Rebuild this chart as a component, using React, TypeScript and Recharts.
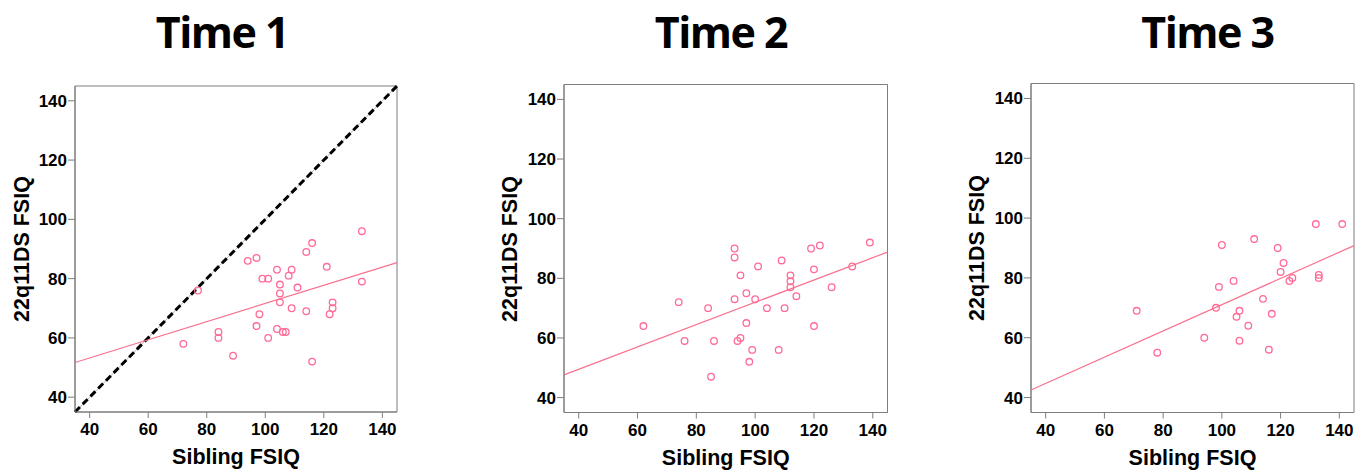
import React from 'react';
import { ScatterChart, Scatter, XAxis, YAxis, ReferenceLine, ReferenceArea } from 'recharts';

// ---------- data ----------
const panelTitles = ['Time 1', 'Time 2', 'Time 3'];
const axisTicks = [40, 60, 80, 100, 120, 140];
const axisDomain: [number, number] = [35, 145];
const xAxisLabel = 'Sibling FSIQ';
const yAxisLabel = '22q11DS FSIQ';

const time1Sibling = [77, 72, 84, 84, 89, 94, 97, 99, 101, 98, 97, 101, 104, 105, 105, 105, 104, 106, 107, 108, 109, 109, 111, 114, 114, 116, 116, 121, 122, 123, 123, 133, 133];
const time1Proband = [76, 58, 62, 60, 54, 86, 87, 80, 80, 68, 64, 60, 83, 78, 75, 72, 63, 62, 62, 81, 83, 70, 77, 89, 69, 92, 52, 84, 68, 72, 70, 96, 79];

const time2Sibling = [62, 74, 76, 84, 86, 85, 93, 93, 93, 95, 97, 97, 95, 94, 99, 98, 100, 101, 104, 108, 109, 110, 112, 112, 112, 114, 119, 120, 120, 122, 126, 133, 139];
const time2Proband = [64, 72, 59, 70, 59, 47, 90, 87, 73, 81, 75, 65, 60, 59, 56, 52, 73, 84, 70, 56, 86, 70, 81, 79, 77, 74, 90, 83, 64, 91, 77, 84, 92];

const time3Sibling = [71, 78, 94, 98, 99, 100, 104, 105, 106, 106, 109, 111, 114, 116, 117, 119, 120, 121, 123, 124, 133, 133, 132, 141];
const time3Proband = [69, 55, 60, 70, 77, 91, 79, 67, 69, 59, 64, 93, 73, 56, 68, 90, 82, 85, 79, 80, 81, 80, 98, 98];

const time1Fit = [{ x: 35, y: 51.7 }, { x: 145, y: 85.4 }];
const time2Fit = [{ x: 35, y: 47.6 }, { x: 145, y: 88.8 }];
const time3Fit = [{ x: 35, y: 42.5 }, { x: 145, y: 90.8 }];
const identityLine = [{ x: 35, y: 35 }, { x: 145, y: 145 }];

const zip = (xs: number[], ys: number[]) => xs.map((x, i) => ({ x, y: ys[i] }));

// ---------- styles ----------
const PINK = '#ff6a96';
const FIT = '#f8728f';
const BOX = '#7d7d7d';
const tickFont = { fill: '#000', fontSize: 17, fontWeight: 700, fontFamily: '"Liberation Sans", Arial, sans-serif' };

type Layout = { L: number; T: number; R: number; B: number; titleX: number; yLabelX: number };
const layouts: Layout[] = [
  { L: 75, T: 86, R: 397, B: 412, titleX: 222, yLabelX: 22 },
  { L: 563.5, T: 84.5, R: 887, B: 412.5, titleX: 721, yLabelX: 510 },
  { L: 1031, T: 83.5, R: 1354, B: 412.5, titleX: 1207.5, yLabelX: 977 },
];

const Circle = (props: any) => (
  <circle cx={props.cx} cy={props.cy} r={3.3} fill="none" stroke={PINK} strokeWidth={1.3} />
);

function Panel({ title, points, fit, identity, lay }: { title: string; points: { x: number; y: number }[]; fit: { x: number; y: number }[]; identity?: { x: number; y: number }[]; lay: Layout }) {
  const yAxisW = 60;
  const xAxisH = 64;
  const rightM = 5;
  const width = yAxisW + (lay.R - lay.L) + rightM;
  const height = 476;
  const cy = (lay.T + lay.B) / 2;
  return (
    <>
      <div
        style={{
          position: 'absolute', left: lay.titleX, top: 4, transform: 'translateX(-50%)',
          fontFamily: '"Open Sans", sans-serif', fontWeight: 700, fontSize: 43, letterSpacing: -1.5,
          lineHeight: '56px', whiteSpace: 'nowrap', color: '#000',
        }}
      >
        {title}
      </div>
      <div
        style={{
          position: 'absolute', left: lay.yLabelX, top: cy, transform: 'translate(-50%, -50%) rotate(-90deg)',
          fontFamily: '"Liberation Sans", Arial, sans-serif', fontWeight: 700, fontSize: 21.5,
          whiteSpace: 'nowrap', color: '#000', lineHeight: '24px',
        }}
      >
        {yAxisLabel}
      </div>
      <div style={{ position: 'absolute', left: lay.L - yAxisW, top: 0 }}>
        <ScatterChart
          width={width}
          height={height}
          margin={{ top: lay.T, right: rightM, left: 0, bottom: height - lay.B - xAxisH }}
        >
          <XAxis
            type="number"
            dataKey="x"
            domain={axisDomain}
            ticks={axisTicks}
            allowDataOverflow
            height={xAxisH}
            tick={tickFont}
            tickSize={6}
            tickMargin={5}
            axisLine={{ stroke: BOX }}
            tickLine={{ stroke: BOX }}
            label={{
              value: xAxisLabel, position: 'insideBottom', offset: 12,
              style: { fill: '#000', fontSize: 21.5, fontWeight: 700, fontFamily: '"Liberation Sans", Arial, sans-serif' },
            }}
          />
          <YAxis
            type="number"
            dataKey="y"
            domain={axisDomain}
            ticks={axisTicks}
            allowDataOverflow
            width={yAxisW}
            tick={tickFont}
            tickSize={7}
            tickMargin={1}
            axisLine={{ stroke: BOX }}
            tickLine={{ stroke: BOX }}
          />
          <ReferenceArea x1={35} x2={145} y1={35} y2={145} fill="none" stroke={BOX} strokeWidth={1} ifOverflow="extendDomain" />
          {identity && (
            <ReferenceLine segment={identity} stroke="#b5b5b5" strokeWidth={1} />
          )}
          {identity && (
            <ReferenceLine segment={identity} stroke="#000" strokeWidth={3} strokeDasharray="7 4" />
          )}
          <ReferenceLine segment={fit} stroke={FIT} strokeWidth={1.2} />
          <Scatter data={points} shape={Circle} isAnimationActive={false} />
        </ScatterChart>
      </div>
    </>
  );
}

export default function App() {
  const sets = [
    { points: zip(time1Sibling, time1Proband), fit: time1Fit, identity: identityLine },
    { points: zip(time2Sibling, time2Proband), fit: time2Fit },
    { points: zip(time3Sibling, time3Proband), fit: time3Fit },
  ];
  return (
    <div style={{ position: 'absolute', left: 0, top: 0, width: 1369, height: 476, background: '#fff', overflow: 'hidden' }}>
      {sets.map((s, i) => (
        <Panel key={i} title={panelTitles[i]} points={s.points} fit={s.fit} identity={(s as any).identity} lay={layouts[i]} />
      ))}
    </div>
  );
}
